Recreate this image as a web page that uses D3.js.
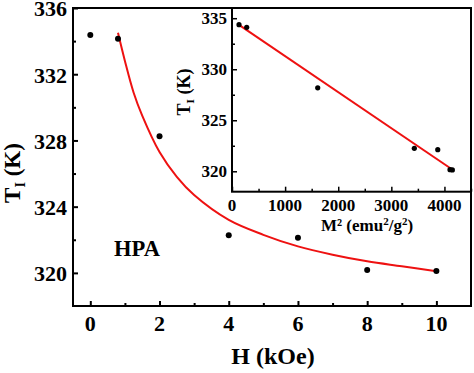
<!DOCTYPE html>
<html><head><meta charset="utf-8">
<script src="https://cdn.jsdelivr.net/npm/d3@7"></script>
<style>
html,body{margin:0;padding:0;background:#fff;}
text{font-family:"Liberation Serif","Times New Roman",serif;font-weight:bold;fill:#000;}
</style></head>
<body>
<svg id="c" width="474" height="373"></svg>
<script>
// Data
const fieldH = [0, 0.8, 2, 4, 6, 8, 10];                 // kOe
const tempT = [334.37, 334.15, 328.25, 322.27, 322.13, 320.17, 320.11]; // K
const fitH = [0.8, 1.0, 1.25, 1.5, 2.0, 2.5, 3.0, 4, 5, 6, 7, 8, 9, 10];
const fitT = [334.5, 332.8, 330.9, 329.5, 327.3, 325.8, 324.7, 323.2, 322.3, 321.6, 321.1, 320.7, 320.4, 320.1];
const m2 = [132, 277, 1614, 3433, 3874, 4105, 4149];      // emu^2/g^2
const insetT = [334.37, 334.11, 328.18, 322.25, 322.12, 320.16, 320.13];
const lineM2 = [132, 4168];
const lineT = [334.34, 320.10];
const mainXTicks = [0, 2, 4, 6, 8, 10];
const mainYTicks = [320, 324, 328, 332, 336];
const insetXTicks = [0, 1000, 2000, 3000, 4000];
const insetYTicks = [320, 325, 330, 335];

const svg = d3.select("#c");
const red = "#ee1111";

// Main scales
const x = d3.scaleLinear().domain([-0.5, 11]).range([73, 471]);
const y = d3.scaleLinear().domain([318, 336]).range([306, 8]);

// Main axes (ticks inward)
const gx = svg.append("g").attr("transform", `translate(0,${y.range()[0]})`)
  .call(d3.axisTop(x).tickValues(d3.range(0, 11, 1)).tickSize(5).tickFormat(""));
gx.selectAll(".tick line").attr("stroke-width", 2).attr("y2", (d) => d % 2 === 0 ? -5 : -3);
gx.select(".domain").remove();
const gy = svg.append("g").attr("transform", `translate(${x.range()[0]},0)`)
  .call(d3.axisRight(y).tickValues(d3.range(320, 337, 2)).tickSize(5).tickFormat(""));
gy.selectAll(".tick line").attr("stroke-width", 2).attr("x2", (d) => d % 4 === 0 ? 5 : 3);
gy.select(".domain").remove();

svg.selectAll(".mxl").data(mainXTicks).enter().append("text")
  .attr("x", (d) => x(d)).attr("y", 331).attr("text-anchor", "middle")
  .attr("font-size", 22).text((d) => d);
svg.selectAll(".myl").data(mainYTicks).enter().append("text")
  .attr("x", 67).attr("y", (d) => y(d)).attr("dy", "0.38em").attr("text-anchor", "end")
  .attr("font-size", 22).text((d) => d);

// Main curve + points
svg.append("path").datum(fitH.map((h, i) => [h, fitT[i]]))
  .attr("fill", "none").attr("stroke", red).attr("stroke-width", 2)
  .attr("d", d3.line().x((d) => x(d[0])).y((d) => y(d[1])).curve(d3.curveCatmullRom));
svg.selectAll(".mp").data(fieldH.map((h, i) => [h, tempT[i]])).enter().append("circle")
  .attr("cx", (d) => x(d[0])).attr("cy", (d) => y(d[1])).attr("r", 3).attr("fill", "#000");

// Main frame
svg.append("rect").attr("x", 73).attr("y", 8).attr("width", 398).attr("height", 298)
  .attr("fill", "none").attr("stroke", "#000").attr("stroke-width", 2);

// Labels
svg.append("text").attr("x", 137).attr("y", 256).attr("text-anchor", "middle")
  .attr("font-size", 22.5).text("HPA");
svg.append("text").attr("x", 273).attr("y", 364).attr("text-anchor", "middle")
  .attr("font-size", 24).text("H (kOe)");
const yt = svg.append("text").attr("transform", "translate(20,173) rotate(-90)")
  .attr("text-anchor", "middle").attr("font-size", 23);
yt.append("tspan").text("T");
yt.append("tspan").attr("font-size", 14).attr("dy", 5).text("I");
yt.append("tspan").attr("dy", -5).text(" (K)");

// Inset
const ix = d3.scaleLinear().domain([0, 4500]).range([232, 471]);
const iy = d3.scaleLinear().domain([318, 336]).range([191.7, 8]);
svg.append("rect").attr("x", 232).attr("y", 8).attr("width", 239).attr("height", 183.7)
  .attr("fill", "#fff").attr("stroke", "none");
const igx = svg.append("g").attr("transform", `translate(0,${iy.range()[0]})`)
  .call(d3.axisTop(ix).tickValues(d3.range(0, 4501, 500)).tickFormat(""));
igx.selectAll(".tick line").attr("stroke-width", 1.5).attr("y2", (d) => d % 1000 === 0 ? -5 : -3);
igx.select(".domain").remove();
const igy = svg.append("g").attr("transform", `translate(${ix.range()[0]},0)`)
  .call(d3.axisRight(iy).tickValues([320, 322.5, 325, 327.5, 330, 332.5, 335]).tickFormat(""));
igy.selectAll(".tick line").attr("stroke-width", 1.5).attr("x2", (d) => d % 5 === 0 ? 5 : 3);
igy.select(".domain").remove();

svg.selectAll(".ixl").data(insetXTicks).enter().append("text")
  .attr("x", (d) => ix(d)).attr("y", 211).attr("text-anchor", "middle")
  .attr("font-size", 17).text((d) => d);
svg.selectAll(".iyl").data(insetYTicks).enter().append("text")
  .attr("x", 227).attr("y", (d) => iy(d)).attr("dy", "0.35em").attr("text-anchor", "end")
  .attr("font-size", 17).text((d) => d);

svg.append("path").datum(lineM2.map((m, i) => [m, lineT[i]]))
  .attr("fill", "none").attr("stroke", red).attr("stroke-width", 2)
  .attr("d", d3.line().x((d) => ix(d[0])).y((d) => iy(d[1])));
svg.selectAll(".ip").data(m2.map((m, i) => [m, insetT[i]])).enter().append("circle")
  .attr("cx", (d) => ix(d[0])).attr("cy", (d) => iy(d[1])).attr("r", 2.6).attr("fill", "#000");

svg.append("rect").attr("x", 232).attr("y", 8).attr("width", 239).attr("height", 183.7)
  .attr("fill", "none").attr("stroke", "#000").attr("stroke-width", 2);

const ixt = svg.append("text").attr("x", 367).attr("y", 231).attr("text-anchor", "middle").attr("font-size", 17);
ixt.append("tspan").text("M² (emu");
ixt.append("tspan").attr("font-size", 11).attr("dy", -6).text("2");
ixt.append("tspan").attr("dy", 6).text("/g");
ixt.append("tspan").attr("font-size", 11).attr("dy", -6).text("2");
ixt.append("tspan").attr("dy", 6).text(")");
const iyt = svg.append("text").attr("transform", "translate(190,92) rotate(-90)")
  .attr("text-anchor", "middle").attr("font-size", 18);
iyt.append("tspan").text("T");
iyt.append("tspan").attr("font-size", 11).attr("dy", 4).text("I");
iyt.append("tspan").attr("dy", -4).text(" (K)");
</script>
</body></html>
